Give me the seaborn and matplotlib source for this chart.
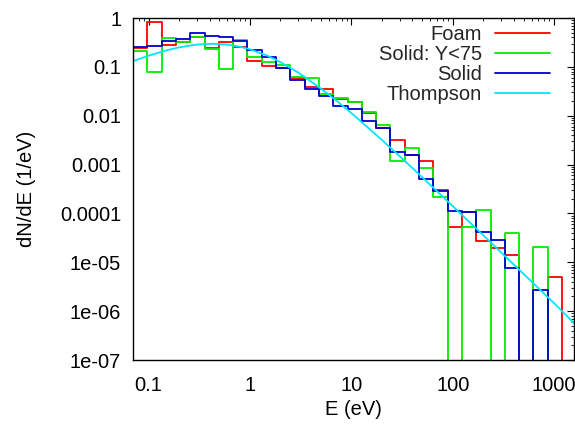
import numpy as np
import pandas as pd
import matplotlib
matplotlib.use("Agg")
import matplotlib.pyplot as plt
import seaborn as sns
from matplotlib.ticker import FixedLocator, FixedFormatter, LogLocator, NullFormatter

# ---- data ----
e_lo, e_hi, n_bins = 0.0703, 1197.0, 30          # log-spaced energy bins (eV)
bin_edges = np.geomspace(e_lo, e_hi, n_bins + 1)

foam = [0.238, 0.81, 0.279, 0.33, 0.41, 0.238, 0.316, 0.25, 0.133, 0.105,
        0.097, 0.0586, 0.0395, 0.036, 0.0224, 0.0188, 0.0116, 0.0057, 0.00317, 0.0016,
        0.00121, 0.0003, 5.2e-5, 1.05e-4, 2.7e-5, 1.92e-5, 1.38e-5, 0, 0, 5.1e-6]
solid_y75 = [0.213, 0.077, 0.394, 0.326, 0.40, 0.234, 0.092, 0.353, 0.16, 0.123,
             0.11, 0.0624, 0.0605, 0.0284, 0.0226, 0.019, 0.0121, 0.00635, 0.00117, 0.0022,
             0.00086, 0.000214, 0, 5.3e-5, 1.16e-4, 0, 3.98e-5, 0, 2.05e-5, 0]
solid = [0.258, 0.262, 0.343, 0.38, 0.49, 0.427, 0.41, 0.343, 0.22, 0.16,
         0.095, 0.055, 0.036, 0.0254, 0.0158, 0.0135, 0.0079, 0.0056, 0.00183, 0.0016,
         0.00051, 0.00029, 1.14e-4, 1.07e-4, 4.1e-5, 2.9e-5, 7.8e-6, 0, 2.7e-6, 0]

thompson_e = [0.0703, 0.1, 0.15, 0.2, 0.3, 0.42, 0.6, 0.8, 1.0, 1.5, 2, 3, 5, 7,
              10, 20, 30, 50, 100, 200, 500, 1000, 1570]
thompson_v = [0.131, 0.169, 0.2175, 0.2505, 0.286, 0.297, 0.285, 0.258, 0.229, 0.168,
              0.125, 0.0762, 0.0362, 0.021, 0.01135, 0.0032, 0.00148, 5.51e-4, 1.41e-4,
              3.58e-5, 5.77e-6, 1.45e-6, 5.7e-7]

x_ticks = [0.1, 1, 10, 100, 1000]
x_tick_labels = ["0.1", "1", "10", "100", "1000"]
y_ticks = [1, 0.1, 0.01, 0.001, 0.0001, 1e-5, 1e-6, 1e-7]
y_tick_labels = ["1", "0.1", "0.01", "0.001", "0.0001", "1e-05", "1e-06", "1e-07"]

series = [("Foam", foam, "#ff0000"),
          ("Solid: Y<75", solid_y75, "#00ee00"),
          ("Solid", solid, "#0000d0")]

# ---- style ----
FS = 14.5
sns.set_theme(style="white")
plt.rcParams['font.family'] = ['Liberation Sans', 'DejaVu Sans']
plt.rcParams['font.size'] = FS

fig = plt.figure(figsize=(5.75, 4.25), dpi=100)
ax = fig.add_axes([133 / 575, 65 / 425, 441 / 575, 342 / 425])
ax.set_xscale('log')
ax.set_yscale('log')

floor = 1e-12  # empty bins drop below the axis


def step_frame(values, name):
    v = np.asarray(values, dtype=float)
    v = np.where(v > 0, v, floor)
    x = np.concatenate([[bin_edges[0]], bin_edges])
    y = np.concatenate([[floor], v, [floor]])
    return pd.DataFrame({"E": x, "dNdE": y, "series": name})


for name, vals, col in series:
    df = step_frame(vals, name)
    sns.lineplot(data=df, x="E", y="dNdE", color=col, lw=1.3,
                 drawstyle="steps-post", estimator=None, sort=False,
                 ax=ax, label=name)

sns.lineplot(x=thompson_e, y=thompson_v, color="#00e5ff", lw=1.3,
             estimator=None, sort=False, ax=ax, label="Thompson")

ax.set_xlim(0.0703, 1570)
ax.set_ylim(1e-7, 1)

ax.xaxis.set_major_locator(FixedLocator(x_ticks))
ax.xaxis.set_major_formatter(FixedFormatter(x_tick_labels))
ax.yaxis.set_major_locator(FixedLocator(y_ticks))
ax.yaxis.set_major_formatter(FixedFormatter(y_tick_labels))
for axis in (ax.xaxis, ax.yaxis):
    axis.set_minor_locator(LogLocator(base=10, subs=np.arange(2, 10), numticks=20))
    axis.set_minor_formatter(NullFormatter())

ax.tick_params(which='both', direction='in', top=True, right=True, colors='black',
               labelsize=FS, labelcolor='black')
ax.tick_params(which='major', length=5, width=0.8)
ax.tick_params(which='minor', length=2.5, width=0.6)
ax.tick_params(axis='y', which='major', pad=8.5)
ax.tick_params(axis='x', which='major', pad=11.5)

for s in ax.spines.values():
    s.set_color('black')
    s.set_linewidth(1.0)

ax.set_xlabel("E (eV)", fontsize=FS, color='black', labelpad=3.5)
ax.set_ylabel("dN/dE (1/eV)", fontsize=FS, color='black', labelpad=17)

ax.legend(loc="upper right", frameon=False, markerfirst=False, fontsize=FS,
          handlelength=2.75, handletextpad=0.65, labelspacing=0.05,
          borderpad=0.2, borderaxespad=0.0, bbox_to_anchor=(0.955, 0.99))

fig.savefig("out.png", dpi=100)
